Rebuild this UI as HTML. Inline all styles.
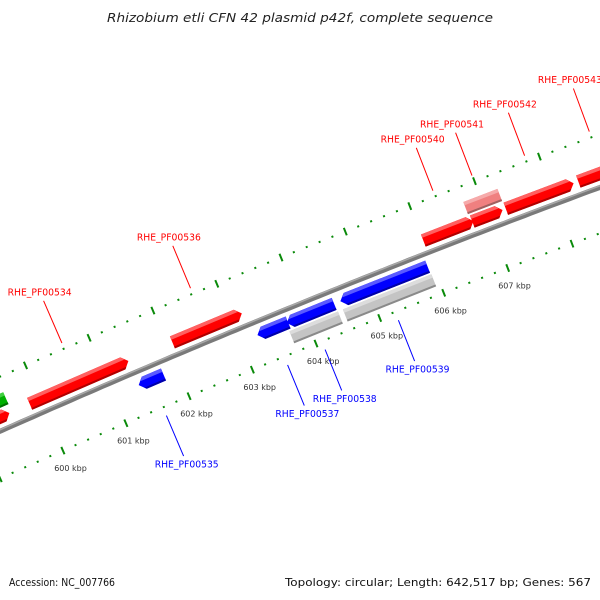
<!DOCTYPE html>
<html><head><meta charset="utf-8"><style>
html,body{margin:0;padding:0;background:#fff;}
svg{display:block;font-family:"DejaVu Sans","Liberation Sans",sans-serif;}
</style></head><body>
<svg id="map" width="600" height="600" viewBox="0 0 600 600" xmlns="http://www.w3.org/2000/svg">
<text x="300" y="22" text-anchor="middle" font-size="12" font-style="italic" fill="#222" textLength="386" lengthAdjust="spacingAndGlyphs">Rhizobium etli CFN 42 plasmid p42f, complete sequence</text>
<g id="plot"></g>
<text x="9" y="586" font-size="11" fill="#111" textLength="106" lengthAdjust="spacingAndGlyphs">Accession: NC_007766</text>
<text x="591" y="586" text-anchor="end" font-size="11" fill="#111" textLength="306" lengthAdjust="spacingAndGlyphs">Topology: circular; Length: 642,517 bp; Genes: 567</text>
</svg>
<script>
// data (kbp)
const geneStart = [599.0, 599.0, 599.83, 601.39, 602.08, 603.26, 603.71, 603.72, 604.55, 604.56, 606.0, 606.74, 606.76, 607.28, 608.40];
const geneEnd   = [599.55, 599.51, 601.39, 601.78, 603.17, 603.74, 604.47, 604.46, 605.93, 605.92, 606.78, 607.27, 607.23, 608.33, 609.2];
const geneTrack = [2, 1, 1, -1, 1, -1, -2, -1, -2, -1, 1, 2, 1, 1, 1];
const geneColor = ["green","red","red","blue","red","blue","gray","blue","gray","blue","red","pink","red","red","red"];
const geneLabel = ["","","RHE_PF00534","RHE_PF00535","RHE_PF00536","RHE_PF00537","","RHE_PF00538","","RHE_PF00539","RHE_PF00540","","RHE_PF00541","RHE_PF00542","RHE_PF00543"];
const tickLabels = [600, 601, 602, 603, 604, 605, 606, 607];

const NS = "http://www.w3.org/2000/svg";
const plot = document.getElementById('plot');
const B = [319, 296], A0 = 22 * Math.PI / 180, R = 10000, MID = 604.3, PXK = 69;
const u0 = [Math.cos(A0), -Math.sin(A0)], n0 = [-Math.sin(A0), -Math.cos(A0)];
function sOf(bp){ return (bp - MID) * PXK; }
function pt(bp, r){
  const phi = sOf(bp) / R;
  const C = [B[0] - R*n0[0], B[1] - R*n0[1]];
  const d = [n0[0]*Math.cos(phi) + u0[0]*Math.sin(phi), n0[1]*Math.cos(phi) + u0[1]*Math.sin(phi)];
  return [C[0] + (R + r)*d[0], C[1] + (R + r)*d[1]];
}
function angDeg(bp){ return -(A0 - sOf(bp)/R) * 180 / Math.PI; }
function mk(tag, attrs, parent){
  const e = document.createElementNS(NS, tag);
  for (const k in attrs) e.setAttribute(k, attrs[k]);
  (parent || plot).appendChild(e);
  return e;
}

// backbone
let pts = [];
for (let bp = 598.5; bp <= 610; bp += 0.1){ const p = pt(bp, 0); pts.push(p[0].toFixed(1)+','+p[1].toFixed(1)); }
const bb = mk('polyline', {points: pts.join(' '), fill:'none', stroke:'#7a7a7a', 'stroke-width':5});


let pts2 = [];
for (let bp = 598.5; bp <= 610; bp += 0.1){ const p = pt(bp, 1.5); pts2.push(p[0].toFixed(1)+','+p[1].toFixed(1)); }
const bbh = mk('polyline', {points: pts2.join(' '), fill:'none', stroke:'#a8a8a8', 'stroke-width':1.5});



// ticks
function tickRow(r, name){
  const g = mk('g', {});
  
  
  for (let i = 0; i <= 60; i++){
    const bp = 598.6 + i*0.2;
    const major = Math.abs(bp - Math.round(bp)) < 0.01;
    const p = pt(bp, r);
    const t = mk('rect', major ? {x:-1, y:-4, width:2, height:8, fill:'#0a8a0a'} : {x:-1, y:-1, width:2, height:2, fill:'#0a8a0a'}, g);
    t.setAttribute('transform', `translate(${p[0].toFixed(1)},${p[1].toFixed(1)}) rotate(${angDeg(bp).toFixed(2)})`);
    
    
  }
}
tickRow(50, 'outer-tick-row');
tickRow(-43, 'inner-tick-row');
for (const k of tickLabels){
  const p = pt(k, -62);
  const t = mk('text', {x:p[0].toFixed(1), y:(p[1]+3).toFixed(1), 'text-anchor':'middle', 'font-size':8, fill:'#333'});
  t.textContent = k + ' kbp';
  
  
}

// genes
const pal = {
  red:  ['#ff0000', '#ff6060', '#b00000'],
  blue: ['#0000ff', '#5a5aff', '#0000a8'],
  gray: ['#c4c4c4', '#dcdcdc', '#8a8a8a'],
  pink: ['#f08080', '#f6aaaa', '#a06060'],
  green:['#00b000', '#40d040', '#007000']
};
const trackR = {1: 13, '-1': -13, 2: 28, '-2': -28};
for (let i = 0; i < geneStart.length; i++){
  const tr = geneTrack[i];
  const mid = (geneStart[i] + geneEnd[i]) / 2;
  const L = (geneEnd[i] - geneStart[i]) * PXK;
  const c = pt(mid, trackR[tr]);
  const g = mk('g', {transform:`translate(${c[0].toFixed(1)},${c[1].toFixed(1)}) rotate(${angDeg(mid).toFixed(2)})`});
  
  
  const h = 6.5, x1 = -L/2, x2 = L/2, hd = 6;
  const col = pal[geneColor[i]];
  let poly;
  if (tr === 1) poly = [[x1,-h],[x2-hd,-h],[x2,0],[x2-hd,h],[x1,h]];
  else if (tr === -1) poly = [[x1+hd,-h],[x2,-h],[x2,h],[x1+hd,h],[x1,0]];
  else poly = [[x1,-h],[x2,-h],[x2,h],[x1,h]];
  mk('polygon', {points: poly.map(p=>p.join(',')).join(' '), fill: col[0]}, g);
  // top highlight & bottom shade
  const top = tr === 1 ? [[x1,-h],[x2-hd,-h],[x2-hd*0.55,-h*0.45],[x1,-h*0.45]]
            : tr === -1 ? [[x1+hd,-h],[x2,-h],[x2,-h*0.45],[x1+hd*0.55,-h*0.45]]
            : [[x1,-h],[x2,-h],[x2,-h*0.45],[x1,-h*0.45]];
  mk('polygon', {points: top.map(p=>p.join(',')).join(' '), fill: col[1]}, g);
  const bot = tr === 1 ? [[x1,h-2],[x2-hd*0.7,h-2],[x2-hd,h],[x1,h]]
            : tr === -1 ? [[x1+hd*0.7,h-2],[x2,h-2],[x2,h],[x1+hd,h]]
            : [[x1,h-2],[x2,h-2],[x2,h],[x1,h]];
  mk('polygon', {points: bot.map(p=>p.join(',')).join(' '), fill: col[2]}, g);

  if (geneLabel[i]){
    const fwd = tr > 0;
    const a = pt(mid, fwd ? 56 : -52), b = pt(mid, fwd ? 102 : -96), tp = pt(mid, fwd ? 112 : -104);
    const clr = fwd ? '#ff0000' : '#0000ff';
    const ln = mk('line', {x1:a[0].toFixed(1), y1:a[1].toFixed(1), x2:b[0].toFixed(1), y2:b[1].toFixed(1), stroke:clr, 'stroke-width':1});
    
    
    const t = mk('text', {x:tp[0].toFixed(1), y:(tp[1]+4).toFixed(1), 'text-anchor':'middle', 'font-size':10, fill:clr, textLength:64, lengthAdjust:'spacingAndGlyphs'});
    t.textContent = geneLabel[i];
    
    
  }
}
</script>
</body></html>
